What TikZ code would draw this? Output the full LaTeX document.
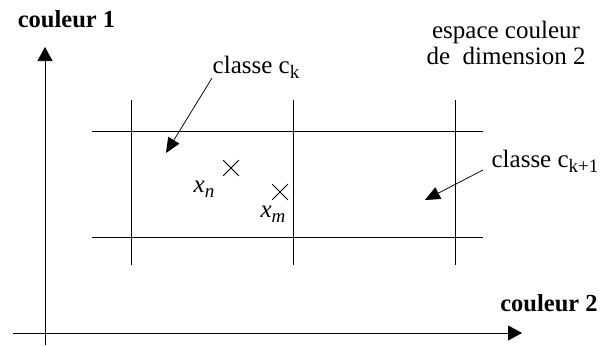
\documentclass[tikz,border=0pt]{standalone}
\usepackage{fontspec}
\setmainfont{Liberation Serif}
\usetikzlibrary{arrows.meta,shapes.misc}
\newcommand{\lowsub}[1]{\raisebox{-0.22em}{\fontsize{19}{20}\selectfont #1}}
\begin{document}
\begin{tikzpicture}[x=1pt,y=-1pt,
  txt/.style={inner sep=0pt,anchor=base,font=\fontsize{25}{28}\selectfont},
  bold/.style={txt,font=\fontsize{24.5}{28}\selectfont\bfseries},
  axis/.style={line width=0.75pt,-{Triangle[length=14pt,width=15pt]}},
  gridline/.style={line width=0.75pt},
  pointer/.style={line width=0.75pt,-{Triangle[length=15pt,width=13pt]}},
  xpoint/.style={draw,cross out,minimum size=15pt,inner sep=0pt,line width=0.75pt}]
\useasboundingbox (0,0) rectangle (612,345);
% axes
\coordinate (ybot) at (45,345);
\coordinate (ytop) at (45,47);
\coordinate (xleft) at (13,333);
\coordinate (xright) at (522,333);
\draw[axis] (ybot) -- (ytop);
\draw[axis] (xleft) -- (xright);
% grid
\coordinate (h1a) at (92,131); \coordinate (h1b) at (483,131);
\coordinate (h2a) at (92,237); \coordinate (h2b) at (483,237);
\coordinate (v1a) at (131,100); \coordinate (v1b) at (131,265);
\coordinate (v2a) at (293,100); \coordinate (v2b) at (293,265);
\coordinate (v3a) at (455,100); \coordinate (v3b) at (455,265);
\draw[gridline] (h1a) -- (h1b);
\draw[gridline] (h2a) -- (h2b);
\draw[gridline] (v1a) -- (v1b);
\draw[gridline] (v2a) -- (v2b);
\draw[gridline] (v3a) -- (v3b);
% labels
\node[bold] (c1) at (66.5,28) {couleur 1};
\node[bold] (c2) at (549,311) {couleur 2};
\node[txt] (esp1) at (506,39) {espace couleur};
\node[txt] (esp2) at (506,64) {de\ \ dimension 2};
\node[txt] (ck) at (256,73) {classe c\lowsub{k}};
\node[txt] (ck1) at (545,167) {classe c\lowsub{k+1}};
% points
\node[xpoint] (xn) at (231,168) {};
\node[xpoint] (xm) at (280,192) {};
\node[txt] (xnl) at (204,192) {\textit{x}\lowsub{\textit{n}}};
\node[txt] (xml) at (273,217) {\textit{x}\lowsub{\textit{m}}};
% pointers
\coordinate (pk) at (166,153);
\coordinate (pk1) at (425,200);
\coordinate (sk) at (212,78);
\coordinate (sk1) at (483,170);
\draw[pointer] (sk) -- (pk);
\draw[pointer] (sk1) -- (pk1);
\end{tikzpicture}
\end{document}
